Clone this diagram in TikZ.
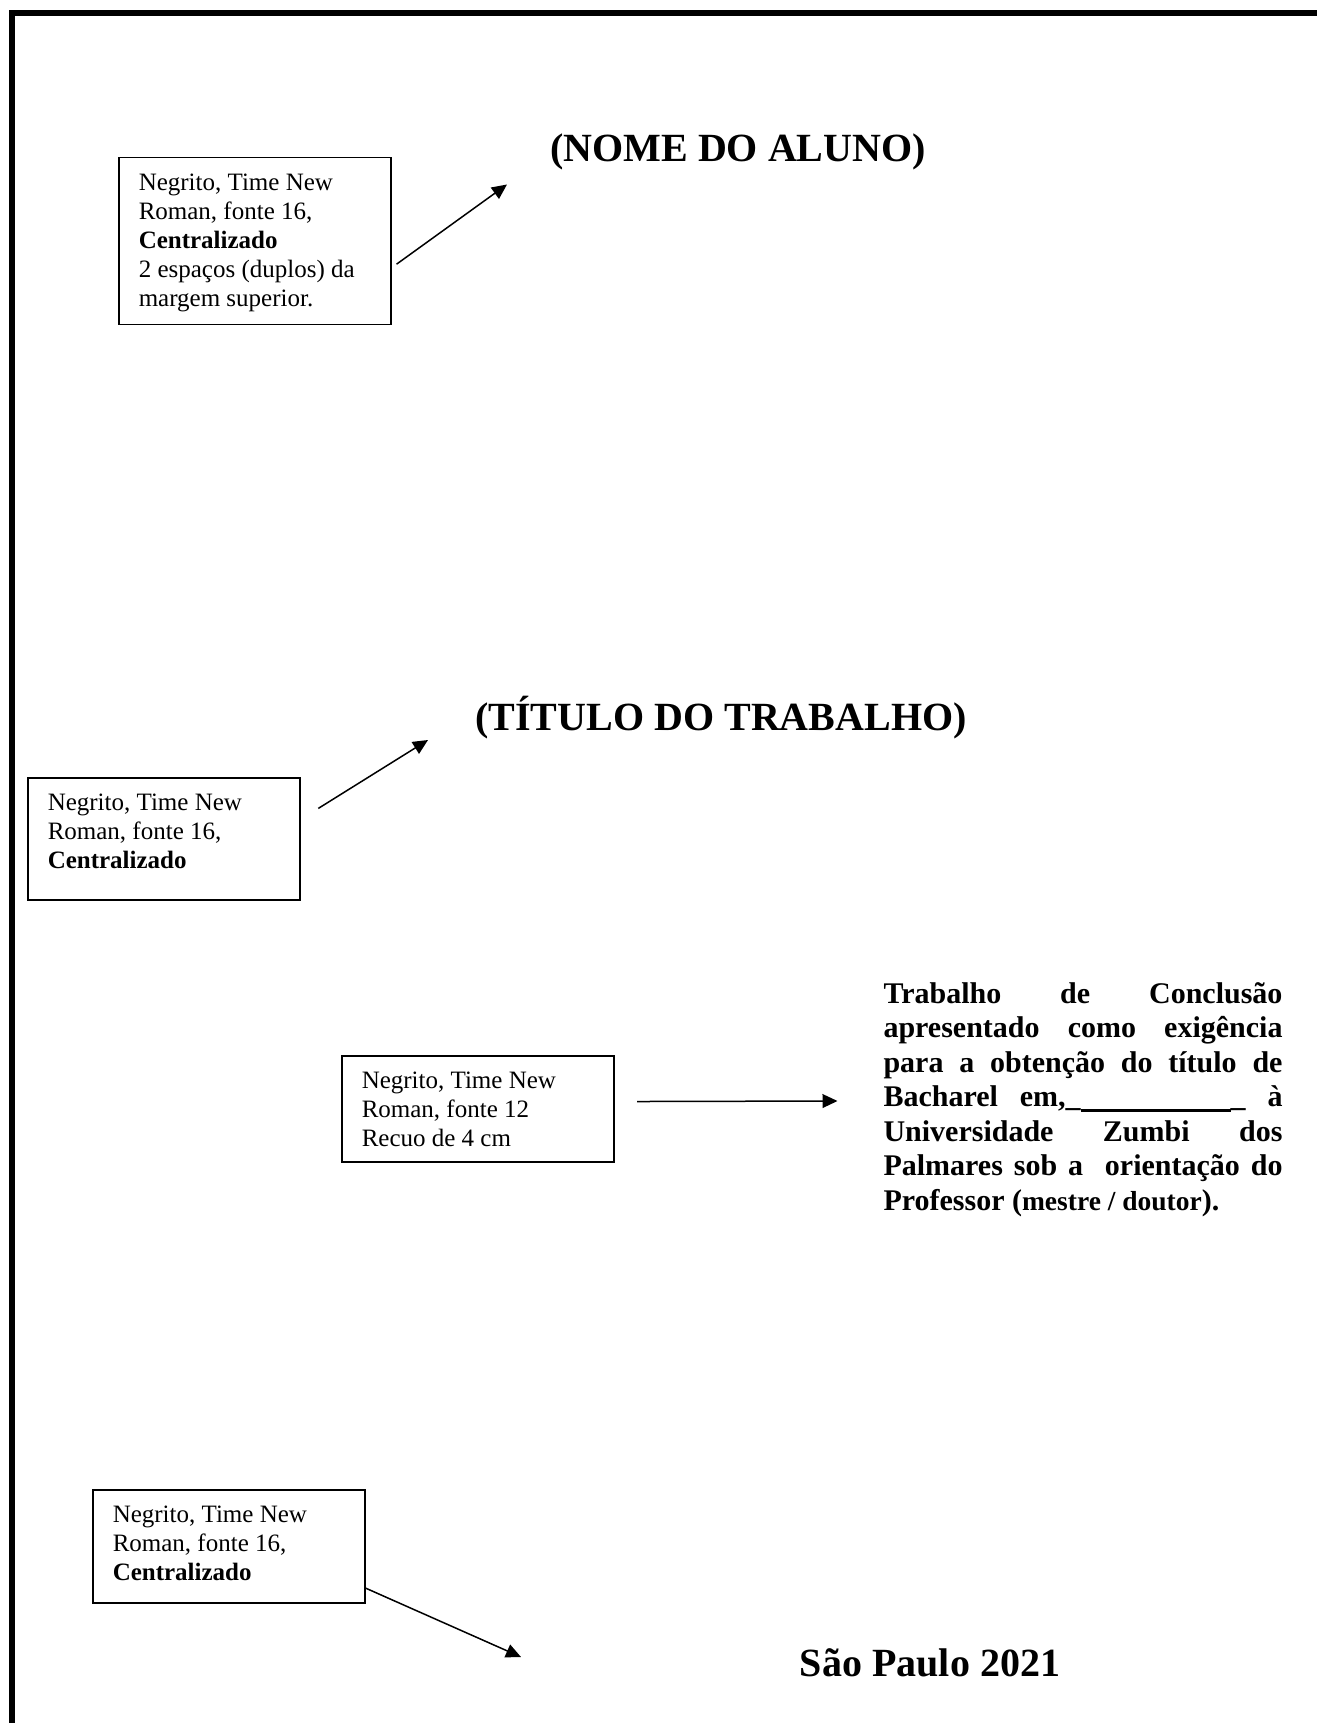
\documentclass[tikz,border=0pt]{standalone}
\usepackage{fontspec}
\setmainfont{Liberation Serif}
\usepackage{tikz}
\usetikzlibrary{arrows.meta}
\tikzstyle{caixa}=[draw=black, line width=0.6pt, anchor=north west, inner xsep=8pt, inner ysep=5.1pt, font=\fontsize{10}{11.6}\selectfont]
\tikzstyle{titulo}=[anchor=base, inner sep=0pt, font=\fontsize{16}{19}\selectfont\bfseries]
\tikzstyle{arrow}=[draw=black, line width=0.6pt, >={Triangle[length=6pt,width=5.5pt]}]
\newcommand{\textocaixa}[2]{\parbox[c][#1][t]{92.8pt}{\raggedright\strut #2}}

\begin{document}
\begin{tikzpicture}[x=0.4pt, y=-0.4pt]
	\useasboundingbox (0,0) rectangle (1317,1723);
	\draw[line width=2.2pt] (12,1723) -- (12,13) -- (1317,13);
	\begin{scope}
		\node (nome) at (738,162) [titulo] {(NOME DO ALUNO)};
		\node (titulo) at (721,730) [titulo] {(TÍTULO DO TRABALHO)};
		\node (local) at (930,1676) [titulo] {São Paulo 2021};
		\node (caixa1) at (118,157) [caixa] {\textocaixa{56.6pt}{Negrito, Time New\\Roman, fonte 16,\\\textbf{Centralizado}\\2 espaços (duplos) da\\margem superior.}};
		\node (caixa2) at (27,777) [caixa] {\textocaixa{38.6pt}{Negrito, Time New\\Roman, fonte 16,\\\textbf{Centralizado}}};
		\node (caixa3) at (341,1055) [caixa] {\textocaixa{32.2pt}{Negrito, Time New\\Roman, fonte 12\\Recuo de 4 cm}};
		\node (caixa4) at (92,1489) [caixa] {\textocaixa{35pt}{Negrito, Time New\\Roman, fonte 16,\\\textbf{Centralizado}}};
		\node (trabalho) at (883,978.5) [anchor=north west, inner sep=0pt, text width=159.6pt, align=justify, font=\fontsize{12}{13.8}\selectfont\bfseries] {
			\strut Trabalho de Conclusão\linebreak
			apresentado como exigência\linebreak
			para a obtenção do título de\linebreak
			Bacharel em,\_\rule[-2pt]{60pt}{1.1pt}\_ à\linebreak
			Universidade Zumbi dos\linebreak
			Palmares sob a~ orientação do\linebreak
			Professor ({\fontsize{11}{13.8}\selectfont mestre / doutor}).
		};
		\coordinate (ponta1) at (507,184.5);
		\coordinate (ponta2) at (428,740);
		\coordinate (ponta3) at (837.5,1101);
		\coordinate (ponta4) at (521,1657);
	\end{scope}
	\begin{scope}
		\path (caixa1.-11) edge [->, arrow, shorten <=2.5pt] (ponta1);
		\path (caixa2.8) edge [->, arrow, shorten <=8.4pt] (ponta2);
		\path (caixa3.3) edge [->, arrow, shorten <=9pt] (ponta3);
		\path (caixa4.-17) edge [->, arrow] (ponta4);
	\end{scope}
\end{tikzpicture}
\end{document}
